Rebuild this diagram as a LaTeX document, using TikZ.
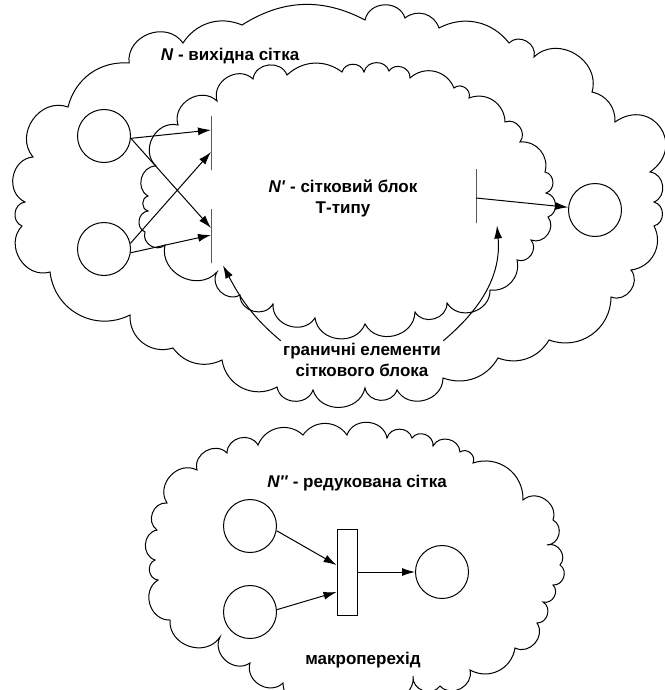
\documentclass[tikz,border=0pt]{standalone}
\usepackage{fontspec}
\setmainfont{Liberation Sans}
\usetikzlibrary{arrows.meta}

\tikzset{
  place/.style={draw, circle, minimum size=53pt, inner sep=0pt},
  bar/.style={draw, inner sep=0pt, minimum width=0pt, minimum height=54pt},
  macro/.style={draw, inner sep=0pt, minimum width=20pt, minimum height=86pt},
  lbl/.style={font=\fontsize{17}{21}\selectfont\bfseries, align=center, inner sep=2pt},
  flat/.style={bend left=40},
  puff/.style={bend left=55, looseness=1.1},
  bump/.style={bend left=75, looseness=1.25}
}

\begin{document}
\begin{tikzpicture}[x=1pt,y=-1pt,line width=1pt,>={Latex[length=13pt,width=8pt]}]
  \useasboundingbox (0,0) rectangle (664,690);

  % clouds
  \draw (173,348) to[puff] (130,315) to[puff] (50,272) to[bump] (22,226) to[bump] (25,202)
    to[bump] (33,157) to[bump] (68,107) to[flat] (129,63) to[bump] (183,43) to[flat] (242,25)
    to[bend left=30] (365,20) to[bump] (405,18) to[puff] (439,28) to[flat] (509,43)
    to[bump] (534,57) to[bump] (592,92) to[flat] (615,122) to[bend left=90,looseness=1.9] (650,172)
    to[bump] (654,202) to[bump] (654,226) to[puff] (631,270) to[bump] (611,297) to[puff] (549,340)
    to[flat] (498,358) to[flat] (443,378) to[bump] (397,390) to[bump] (365,388) to[bump] (313,390)
    to[bump] (277,387) to[puff] (222,360) to[flat] (173,348) -- cycle;
  \draw (217,272) to[bump] (165,245) to[bump] (145,232) to[bump] (148,211) to[bump] (148,196)
    to[bump] (156,166) to[bump] (178,125) to[bump] (217,101) to[bump] (253,79) to[bump] (287,75)
    to[flat] (342,72) to[bump] (364,72) to[bump] (389,71) to[bump] (410,78) to[puff] (454,88)
    to[bump] (469,98) to[puff] (505,122) to[bump] (520,142) to[puff] (545,172) to[bump] (546,193)
    to[bump] (548,217) to[bump] (531,240) to[bump] (517,260) to[puff] (490,290) to[bump] (447,303)
    to[bump] (415,312) to[bump] (365,324) to[bump] (315,318) to[bump] (273,304) to[bump] (240,295)
    to[bump] (217,272) -- cycle;
  \draw (250,663) to[bump] (220,637) to[bump] (170,620) to[bump] (158,580) to[bump] (155,560)
    to[bump] (157,530) to[bump] (167,503) to[bump] (197,470) to[bump] (227,453) to[bump] (258,445)
    to[puff] (303,435) to[puff] (347,435) to[bump] (387,438) to[bump] (412,438) to[bump] (433,446)
    to[bump] (460,452) to[bump] (473,463) to[puff] (523,500) to[bump] (553,520) to[bump] (547,545)
    to[bump] (560,565) to[bump] (553,585) to[bump] (543,602) to[bump] (537,623) to[bump] (515,648)
    to[puff] (470,670) to[bump] (440,686) to[bump] (413,676) to[bump] (375,692) to[bump] (330,696)
    to[bump] (283,683) to[bump] (250,663) -- cycle;

  \node[lbl] (nlab) at (230,56) {\textit{N} - вихідна сітка};
  \node[lbl] (blab) at (343,198) {\textit{N\textquotesingle} - сітковий блок\\Т-типу};
  \node[lbl] (bnd)  at (362,360) {граничні елементи\\сіткового блока};
  \node[lbl] (rlab) at (357,483) {\textit{N\textquotesingle\textquotesingle} - редукована сітка};
  \node[lbl] (mlab) at (363,660) {макроперехід};

  % net N with block N'
  \node[place] (p1) at (104,136) {};
  \node[place] (p2) at (104,249) {};
  \node[place] (p3) at (595,210) {};
  \node[bar] (t1) at (211,143) {};
  \node[bar] (t2) at (211,236) {};
  \node[bar] (t3) at (476,196) {};

  \draw[->] (p1.-5) -- ([yshift=13pt]t1.center);
  \draw[->] (p1.-5) -- ([yshift=8pt]t2.center);
  \draw[->] (p2.12) -- ([yshift=-9pt]t1.center);
  \draw[->] (p2.-8) -- ([yshift=1pt]t2.center);
  \draw[->] ([yshift=-2pt]t3.center) -- (p3);

  \draw[->] (bnd.north west) to[out=140,in=-62] ([shift={(12pt,-2pt)}]t2.south);
  \draw[->] (bnd.north east) to[out=40,in=-85] ([shift={(21pt,-2pt)}]t3.south);

  % reduced net N''
  \node[place] (p4) at (250,526) {};
  \node[place] (p5) at (250,612) {};
  \node[macro] (r) at (347,572) {};
  \node[place] (p6) at (442,572) {};

  \draw[->] (p4.-10) -- ([yshift=7pt]r.west);
  \draw[->] (p5.5) -- ([yshift=-20pt]r.west);
  \draw[->] (r.east) -- (p6);
\end{tikzpicture}
\end{document}
